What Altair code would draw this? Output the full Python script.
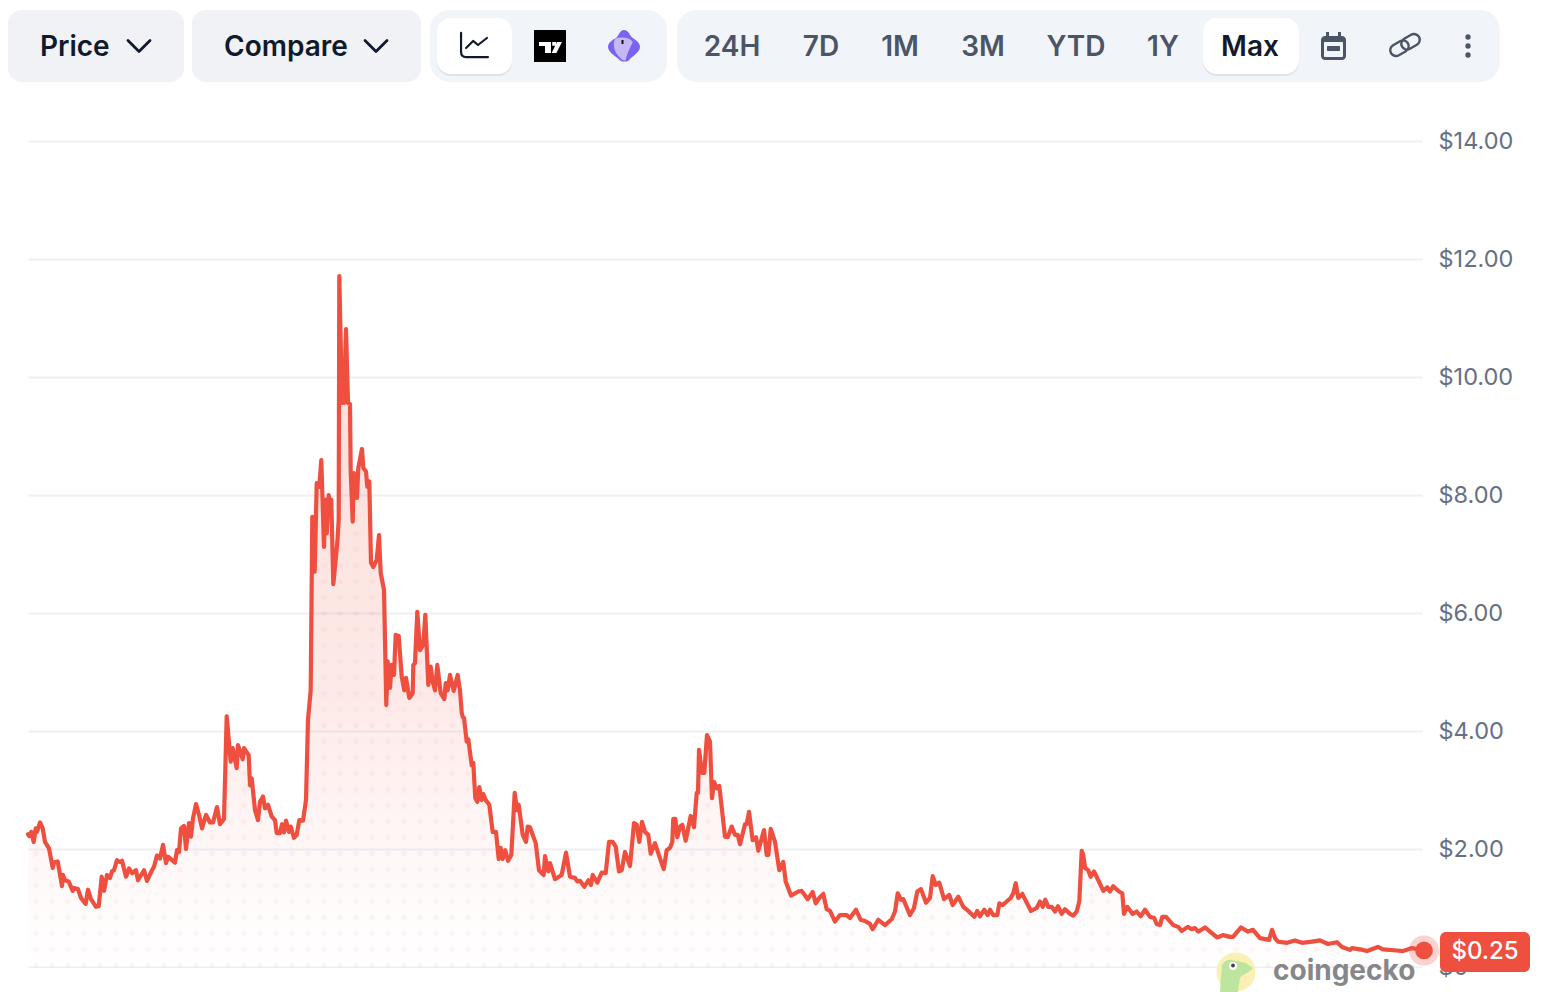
import math
import numpy as np
import pandas as pd
import altair as alt

day = [
    0, 1.3, 3.3, 5.7, 7.7, 9, 12, 14.7, 17, 21, 24.7, 26, 29.7, 34, 35, 37, 40.7, 44.7, 46, 50, 53,
    57.7, 60, 63, 68, 70.7, 73.7, 76, 79, 82, 84, 86, 89, 92, 94, 98, 101, 104, 108, 110, 116,
    119, 124, 126, 129, 132, 135, 138, 140, 147, 149, 151, 153, 156, 158, 161, 163, 165, 168, 171, 174,
    178, 182, 185, 189, 192, 196, 198.7, 202.7, 204.7, 208.7, 210, 214.7, 216, 220.7, 222, 223.7, 227, 230, 232, 235,
    237, 240, 243.7, 247, 248.7, 252, 254, 256, 258, 261, 262.7, 266, 268.7, 271.3, 275, 278, 280, 282.7, 284.3, 286.7,
    288.7, 291.3, 293.3, 296, 297.3, 298.7, 300.7, 302, 303.3, 305.3, 309.3, 310.7, 311.3, 314, 315, 316, 318, 320, 322, 322.7,
    324.7, 326, 329, 330.3, 334, 335.3, 338, 339.3, 341.3, 343, 345.3, 348.7, 351, 352.7, 356, 358.3, 359.7, 362, 363.7, 366,
    367.7, 370.7, 373.7, 376.3, 378, 381.3, 384.7, 385.3, 387, 389.3, 392, 395.3, 397.3, 400.3, 402.7, 404.7, 407, 409.3, 412.7, 416.3,
    417.7, 419.7, 422, 425.7, 429.7, 432, 433.7, 434.7, 436, 438.7, 440.3, 443.7, 445.3, 447.3, 449.3, 451.3, 453.7, 455.3, 457.7, 461.3,
    464.7, 468, 470.7, 472.7, 474.7, 477.3, 480, 483.3, 486.7, 489, 490.7, 494.7, 498, 499.7, 502, 507.7, 511, 515.7, 517, 520.3,
    522, 527, 533.7, 538, 542, 547, 549.3, 552, 556.3, 560.3, 563, 564.7, 569.3, 573.7, 577.7, 581, 584.7, 587.7, 591, 593.7,
    597, 602, 606, 608.7, 611.3, 614, 617, 620.3, 622.7, 627, 632, 635.7, 638.7, 642, 644.3, 645.3, 647.3, 649.3, 652, 654.3,
    657.7, 662.7, 666, 668.7, 670, 671, 674, 676.3, 679, 682, 684, 686, 688.7, 691.3, 697, 699.7, 703.7, 707, 709.7, 712,
    717, 718.7, 721, 724.7, 728, 730.3, 736, 738.7, 740.3, 742.7, 747, 751.3, 755.3, 757.7, 763, 770.3, 773.7, 779.7, 784.7, 787.7,
    791.3, 795.3, 798.7, 802, 807, 812, 818.7, 822, 828, 832.7, 837, 842, 844.7, 850.3, 857, 863.7, 867, 869.7, 873, 875.3,
    882, 886, 889.3, 893, 898, 902, 904.7, 907.7, 911.3, 916, 921.3, 924.7, 930.3, 935.3, 940.3, 946.3, 949.3, 952, 956.3, 959.7,
    962, 965.3, 969.3, 971.3, 974.7, 982.7, 985.3, 987.7, 990.3, 994.3, 1003, 1008.7, 1012, 1014.7, 1017.3, 1020.3, 1023.7, 1027, 1030, 1033.7,
    1037, 1042, 1045.3, 1048.7, 1051.3, 1053.7, 1055.3, 1057, 1060.3, 1062.7, 1066, 1070.3, 1075.3, 1079.3, 1082, 1085.3, 1091, 1094.3, 1096, 1099.3,
    1104.7, 1108.7, 1112.7, 1117, 1122, 1126.3, 1128.7, 1132, 1134.3, 1138, 1145.3, 1150.3, 1153.7, 1159.7, 1163.7, 1167, 1170.3, 1177, 1182, 1189.3,
    1195, 1202, 1205, 1213, 1220, 1225, 1232, 1241, 1244, 1247, 1250, 1259, 1267, 1274, 1284, 1292, 1300, 1309, 1314, 1322,
    1324, 1335, 1339, 1350, 1355, 1369, 1375, 1384, 1396,
]
price = [
    2.25, 2.22, 2.29, 2.12, 2.35, 2.29, 2.45, 2.35, 2.12, 2.01, 1.68, 1.77, 1.79, 1.37, 1.56, 1.47, 1.45, 1.29, 1.34, 1.32, 1.17,
    1.07, 1.31, 1.15, 1.02, 1.03, 1.53, 1.29, 1.56, 1.51, 1.62, 1.64, 1.81, 1.78, 1.80, 1.53, 1.67, 1.59, 1.64, 1.47, 1.64,
    1.46, 1.64, 1.70, 1.89, 1.84, 2.07, 1.76, 1.87, 1.77, 1.98, 1.95, 2.35, 2.39, 2.00, 2.44, 2.21, 2.52, 2.76, 2.58, 2.35,
    2.58, 2.45, 2.45, 2.71, 2.42, 2.51, 4.25, 3.48, 3.71, 3.37, 3.76, 3.52, 3.71, 3.59, 3.08, 3.20, 2.66, 2.49, 2.80, 2.89,
    2.69, 2.75, 2.55, 2.49, 2.27, 2.27, 2.42, 2.28, 2.48, 2.29, 2.38, 2.19, 2.24, 2.49, 2.48, 2.83, 4.19, 4.69, 7.63, 6.70,
    8.20, 8.14, 8.59, 7.12, 7.92, 7.35, 8.00, 7.86, 7.92, 6.49, 7.19, 7.58, 11.71, 9.56, 10.17, 9.56, 10.81, 9.56, 9.54, 8.41,
    7.55, 8.37, 7.95, 8.46, 8.78, 8.46, 8.40, 8.14, 8.23, 6.85, 6.78, 6.90, 7.32, 6.68, 6.39, 4.44, 5.18, 4.73, 5.12, 4.95,
    5.63, 5.61, 4.92, 4.69, 4.90, 4.56, 4.64, 5.12, 5.15, 6.02, 5.37, 5.46, 5.97, 4.78, 5.09, 4.84, 4.69, 5.12, 4.64, 4.54,
    4.81, 4.69, 4.95, 4.68, 4.95, 4.69, 4.31, 4.24, 4.22, 3.82, 3.86, 3.42, 3.46, 2.86, 2.80, 3.05, 2.83, 2.93, 2.83, 2.75,
    2.29, 2.29, 1.83, 2.02, 1.83, 1.98, 1.80, 1.90, 2.95, 2.66, 2.75, 2.24, 2.12, 2.38, 2.37, 2.10, 1.64, 1.56, 1.88, 1.62,
    1.76, 1.49, 1.56, 1.94, 1.53, 1.51, 1.45, 1.46, 1.36, 1.47, 1.39, 1.56, 1.43, 1.60, 1.59, 2.12, 2.12, 2.04, 1.62, 1.64,
    1.95, 1.71, 2.44, 2.41, 2.12, 2.46, 2.29, 2.24, 1.92, 2.10, 1.84, 1.66, 1.98, 2.02, 2.12, 2.51, 2.51, 2.20, 2.38, 2.41,
    2.14, 2.56, 2.37, 2.95, 2.95, 3.68, 3.29, 3.29, 3.93, 3.82, 2.86, 3.14, 3.03, 3.07, 2.21, 2.20, 2.38, 2.24, 2.24, 2.08,
    2.42, 2.42, 2.63, 2.15, 2.20, 1.97, 2.32, 1.90, 1.90, 2.34, 2.12, 1.64, 1.78, 1.45, 1.21, 1.28, 1.29, 1.15, 1.27, 1.08,
    1.17, 1.24, 0.98, 0.95, 0.77, 0.88, 0.88, 0.83, 0.97, 0.80, 0.78, 0.73, 0.64, 0.80, 0.71, 0.81, 0.94, 1.25, 1.14, 1.15,
    0.88, 1.00, 1.28, 1.32, 1.09, 1.17, 1.54, 1.39, 1.43, 1.15, 1.22, 1.05, 1.19, 1.02, 0.95, 0.85, 0.95, 0.86, 0.97, 0.88,
    0.97, 0.88, 0.88, 1.08, 1.05, 1.17, 1.25, 1.42, 1.17, 1.24, 0.95, 1.00, 1.11, 1.02, 1.14, 1.02, 1.02, 0.94, 1.03, 0.90,
    0.98, 0.90, 0.87, 0.94, 1.11, 1.97, 1.90, 1.68, 1.64, 1.53, 1.62, 1.47, 1.29, 1.35, 1.28, 1.37, 1.28, 1.25, 0.90, 1.02,
    0.90, 0.94, 0.86, 0.97, 0.85, 0.83, 0.73, 0.71, 0.85, 0.85, 0.71, 0.68, 0.61, 0.68, 0.64, 0.66, 0.60, 0.67, 0.60, 0.50,
    0.54, 0.51, 0.51, 0.67, 0.60, 0.63, 0.49, 0.46, 0.63, 0.49, 0.43, 0.41, 0.45, 0.41, 0.43, 0.45, 0.39, 0.42, 0.34, 0.29,
    0.32, 0.29, 0.27, 0.34, 0.30, 0.28, 0.27, 0.32, 0.28,
]
tick_values = [0, 2, 4, 6, 8, 10, 12, 14]

RED = "#ee4f3e"
INK = "#111a2c"
SLATE = "#4b5565"
LEFT, TOP = 28, 98

df = pd.DataFrame({"day": day, "price": price})
one = alt.Data(values=[{"a": 1}])

# dotted texture, only where it sits under the price line
dot_rows = []
for d in np.arange(8, 1396, 16):
    top = np.interp(d, day, price)
    p = 0.024
    while p < top - 0.05:
        dot_rows.append({"day": float(d), "price": p})
        p += 16 / 59
dots = pd.DataFrame(dot_rows)

x = alt.X("day:Q", scale=alt.Scale(domain=[0, 1394]), axis=None)
y_scale = alt.Scale(domain=[(967 - 992) / 59, (967 - 98) / 59])
price_axis = alt.Axis(
    orient="right", values=tick_values, title=None, domain=False, ticks=False,
    labelPadding=16, labelFont="Inter", labelFontSize=23.5, labelColor="#667085",
    gridColor="#eff0f5", gridWidth=1.8, grid=True,
    labelExpr="datum.value == 0 ? '$0' : '$' + format(datum.value, '.2f')",
)
y = alt.Y("price:Q", scale=y_scale, axis=price_axis)


def box(x1, y1, x2, y2, color, r=0, op=1.0):
    return alt.Chart(one).mark_rect(color=color, cornerRadius=r, opacity=op).encode(
        x=alt.value(x1 - LEFT), x2=alt.value(x2 - LEFT),
        y=alt.value(y1 - TOP), y2=alt.value(y2 - TOP),
    )


def label(text, px, py, color, size=28, weight=600, align="center"):
    return alt.Chart(one).mark_text(
        text=text, font="Inter", fontSize=size, fontWeight=weight,
        color=color, align=align, baseline="middle",
    ).encode(x=alt.value(px - LEFT), y=alt.value(py + 2 - TOP))


def icon(path, px, py, s, fill=None, stroke=None, sw=2.5, angle=0):
    kw = {"fill": fill, "filled": True, "strokeWidth": 0, "opacity": 1} if fill else {
        "stroke": stroke, "filled": False, "strokeWidth": sw, "opacity": 1, "strokeCap": "round", "strokeJoin": "round"}
    return alt.Chart(one).mark_point(shape=path, size=s * s, angle=angle, **kw).encode(
        x=alt.value(px - LEFT), y=alt.value(py - TOP)
    )


def disc(px, py, r, color, op=1.0):
    return alt.Chart(one).mark_circle(size=math.pi * r * r, color=color, opacity=op).encode(
        x=alt.value(px - LEFT), y=alt.value(py - TOP)
    )


area = alt.Chart(df).mark_area(
    line=False,
    color=alt.Gradient(
        gradient="linear", x1=0, x2=0, y1=0, y2=1,
        stops=[
            alt.GradientStop(offset=0, color="rgba(238,79,62,0.2)"),
            alt.GradientStop(offset=0.6, color="rgba(238,79,62,0.12)"),
            alt.GradientStop(offset=0.8, color="rgba(238,79,62,0.05)"),
            alt.GradientStop(offset=1, color="rgba(238,79,62,0.0)"),
        ],
    ),
).encode(x=x, y=y)

dot_layer = alt.Chart(dots).mark_circle(size=32, color=RED, opacity=0.05).encode(x=x, y=y)
strip = box(28, 968, 1422, 992, "white")
line = alt.Chart(df).mark_line(color=RED, strokeWidth=4.2, strokeJoin="round", strokeCap="round").encode(x=x, y=y)

last = df.tail(1)
halo = alt.Chart(last).mark_circle(size=math.pi * 17 * 17, color="#ee4f3e", opacity=0.25).encode(x=x, y=y)
head = alt.Chart(last).mark_circle(size=math.pi * 10 * 10, color=RED, opacity=1).encode(x=x, y=y)

chevron = "M-1,-0.5L0,0.5L1,-0.5"
chart_icon = "M-0.96,-0.86V0.5Q-0.96,0.86 -0.6,0.86H0.96M-0.6,0.21L-0.1,-0.29L0.25,0L0.89,-0.5"
tv_logo = ("M-0.69,-0.25H0.06V0.44H-0.31V0H-0.69Z"
           "M0.44,-0.25H0.75L0.4,0.44H0.1Z"
           "M0.14,-0.25H0.38V-0.02H0.14Z")
gem = ("M0,-1C0.3,-1 0.35,-0.65 0.55,-0.5C0.8,-0.35 1,-0.15 1,0.05C1,0.4 0.55,0.6 0.3,0.9"
       "C0.15,1 -0.1,1 -0.25,0.9C-0.5,0.65 -1,0.4 -1,0.05C-1,-0.25 -0.65,-0.4 -0.45,-0.55C-0.3,-0.7 -0.25,-1 0,-1Z")
gem_inner = ("M-0.55,-0.45C-0.3,-0.55 0.3,-0.6 0.55,-0.25C0.4,0.1 0.2,0.4 0.1,0.9"
             "C-0.1,0.95 -0.3,0.7 -0.45,0.5C-0.65,0.2 -0.7,-0.2 -0.55,-0.45Z")
link = ("M-0.61,-0.34H-0.14A0.34,0.34 0 0 1 -0.14,0.34H-0.61A0.34,0.34 0 0 1 -0.61,-0.34Z"
        "M0.14,-0.34H0.61A0.34,0.34 0 0 1 0.61,0.34H0.14A0.34,0.34 0 0 1 0.14,-0.34Z")
gecko = "M-0.73,0.91L-0.64,-0.27C-0.6,-0.45 -0.4,-0.6 -0.18,-0.55L0.45,-0.41L0.77,-0.18C0.6,0.05 0.3,0.1 0.18,0.27L0.09,0.91Z"

toolbar = [
    box(8, 10, 184, 82, "#f0f2f6", 14),
    box(192, 10, 421, 82, "#f0f2f6", 14),
    box(430, 10, 667, 82, "#f1f4f9", 20),
    box(677, 10, 1500, 82, "#f1f4f9", 20),
    box(437, 20, 512, 76, "#8a93a5", 14, 0.18),
    box(437, 18, 512, 74, "white", 14),
    box(1203, 20, 1299, 76, "#8a93a5", 14, 0.18),
    box(1203, 18, 1299, 74, "white", 14),
    label("Price", 40, 46, INK, align="left"),
    label("Compare", 224, 46, INK, align="left"),
    icon(chevron, 139, 46, 22, stroke=INK, sw=2.8),
    icon(chevron, 376, 46, 22, stroke=INK, sw=2.8),
    icon(chart_icon, 474.5, 45, 28, stroke=INK, sw=2.2),
    box(534, 30, 566, 62, "black"),
    icon(tv_logo, 550, 46, 32, fill="white"),
    icon(gem, 624, 46, 32, fill="#7a63f0"),
    icon(gem_inner, 624, 46, 32, fill="#c5b8f7"),
    box(621.5, 40, 623.5, 44, "#111111"),
    label("24H", 732, 46, SLATE),
    label("7D", 821, 46, SLATE),
    label("1M", 900, 46, SLATE),
    label("3M", 983, 46, SLATE),
    label("YTD", 1076, 46, SLATE),
    label("1Y", 1163, 46, SLATE),
    label("Max", 1250, 46, INK),
    box(1326, 32, 1329, 38, SLATE),
    box(1338, 32, 1341, 38, SLATE),
    box(1321, 36, 1346, 60, SLATE, 4),
    box(1324, 42, 1343, 57, "#f1f4f9", 1),
    box(1327, 46, 1340, 51, SLATE, 1),
    icon(link, 1405, 45, 34, stroke=SLATE, sw=2.4, angle=330),
    disc(1468, 37, 3, SLATE),
    disc(1468, 46, 3, SLATE),
    disc(1468, 55, 3, SLATE),
]

logo = [
    disc(1236, 972, 22, "#fbf0b4"),
    icon(gecko, 1236, 972, 44, fill="#bde5a0"),
    disc(1233, 966, 4.5, "white"),
    disc(1233, 965.5, 2.2, "#444444"),
    label("coingecko", 1273, 970, "#858789", size=28, weight=700, align="left"),
]

badge = [
    box(1440, 932, 1530, 972, RED, 6),
    label("$0.25", 1485, 950, "white", size=24, weight=500),
]

chart = alt.layer(
    area, dot_layer, strip, line, halo, head, *logo, *badge, *toolbar
).properties(
    width=1394,
    height=894,
    padding={"left": 20, "top": 90, "right": 132, "bottom": 0},
    autosize=alt.AutoSizeParams(type="none"),
    background="white",
).configure_view(strokeWidth=0)

chart.save("out.html", embed_options={"renderer": "svg", "actions": False})
